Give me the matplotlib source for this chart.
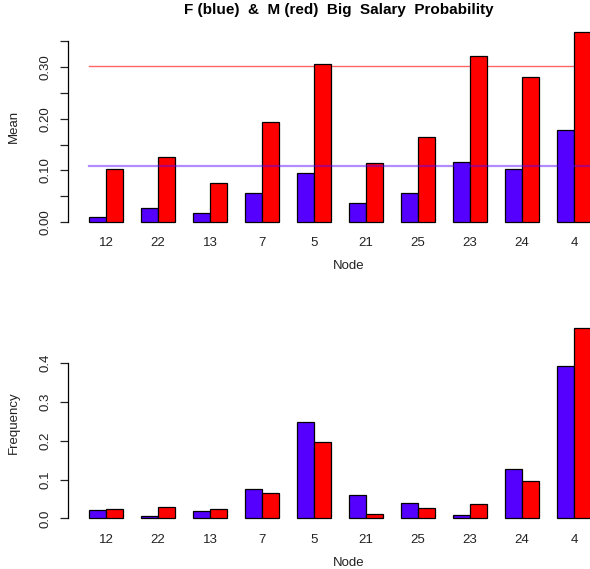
import numpy as np
import matplotlib
matplotlib.use("Agg")
import matplotlib.pyplot as plt
from matplotlib import font_manager

plt.rcParams['font.family'] = ['Liberation Sans', 'DejaVu Sans']
names = {f.name for f in font_manager.fontManager.ttflist}
narrow = 'Liberation Sans Narrow' if 'Liberation Sans Narrow' in names else 'Liberation Sans'

nodes = ['12', '22', '13', '7', '5', '21', '25', '23', '24', '4']
mean_f = [0.010, 0.027, 0.017, 0.057, 0.094, 0.036, 0.056, 0.116, 0.103, 0.178]
mean_m = [0.103, 0.125, 0.076, 0.194, 0.306, 0.114, 0.165, 0.322, 0.282, 0.369]
freq_f = [0.021, 0.007, 0.019, 0.076, 0.248, 0.061, 0.040, 0.009, 0.127, 0.394]
freq_m = [0.024, 0.028, 0.025, 0.065, 0.198, 0.012, 0.027, 0.036, 0.097, 0.491]
overall_f = 0.1085
overall_m = 0.303

blue = '#5500ff'
red = '#ff0000'

fig = plt.figure(figsize=(5.9, 5.69), dpi=100)

# R barplot(beside=TRUE) layout: groups of 2 bars, 1 unit gap
left = np.arange(len(nodes)) * 3 + 1
xlim = (-0.2, 32.2)


def style(ax, ylim, ticks, labels, ylabel):
    ax.set_xlim(*xlim)
    ax.set_ylim(*ylim)
    for s in ['top', 'right', 'bottom']:
        ax.spines[s].set_visible(False)
    ax.spines['left'].set_bounds(ticks[0], ticks[-1])
    ax.spines['left'].set_linewidth(0.9)
    ax.set_yticks(ticks)
    ax.set_yticklabels(labels, rotation=90, va='center', fontsize=9.5,
                       family=narrow, color='#222222')
    ax.tick_params(axis='y', length=6, width=0.9, pad=6, color='#222222')
    ax.set_xticks(left + 1)
    ax.set_xticklabels(nodes, fontsize=9.5, color='#222222')
    ax.tick_params(axis='x', length=0, pad=5.5)
    ax.set_xlabel('Node', fontsize=9.5, labelpad=8, color='#222222')
    ax.set_ylabel(ylabel, fontsize=9.5, labelpad=14, family=narrow,
                  color='#222222')


ax1 = fig.add_axes([0.1151, 0.5965, 0.9517, 0.3615])
ax1.bar(left, mean_f, width=1, align='edge', color=blue, edgecolor='black', linewidth=0.9)
ax1.bar(left + 1, mean_m, width=1, align='edge', color=red, edgecolor='black', linewidth=0.9, zorder=3)
ax1.plot([1, 32.2], [overall_m, overall_m], color=red, alpha=0.6, lw=1.0, zorder=2)
ax1.plot([1, 32.2], [overall_f, overall_f], color=blue, alpha=0.45, lw=1.6, zorder=4)
t1 = np.arange(0, 0.351, 0.05)
style(ax1, (-0.0148, 0.384), t1,
      ['0.00', '', '0.10', '', '0.20', '', '0.30', ''], 'Mean')

ax2 = fig.add_axes([0.1151, 0.0757, 0.9517, 0.3612])
ax2.bar(left, freq_f, width=1, align='edge', color=blue, edgecolor='black', linewidth=0.9)
ax2.bar(left + 1, freq_m, width=1, align='edge', color=red, edgecolor='black', linewidth=0.9)
t2 = np.arange(0, 0.41, 0.1)
style(ax2, (-0.01964, 0.5106), t2,
      ['0.0', '0.1', '0.2', '0.3', '0.4'], 'Frequency')

fig.text(0.575, 0.982, 'F (blue)  &  M (red)  Big  Salary  Probability',
         ha='center', va='center', fontsize=11, fontweight='bold')

fig.savefig('out.png', dpi=100)
